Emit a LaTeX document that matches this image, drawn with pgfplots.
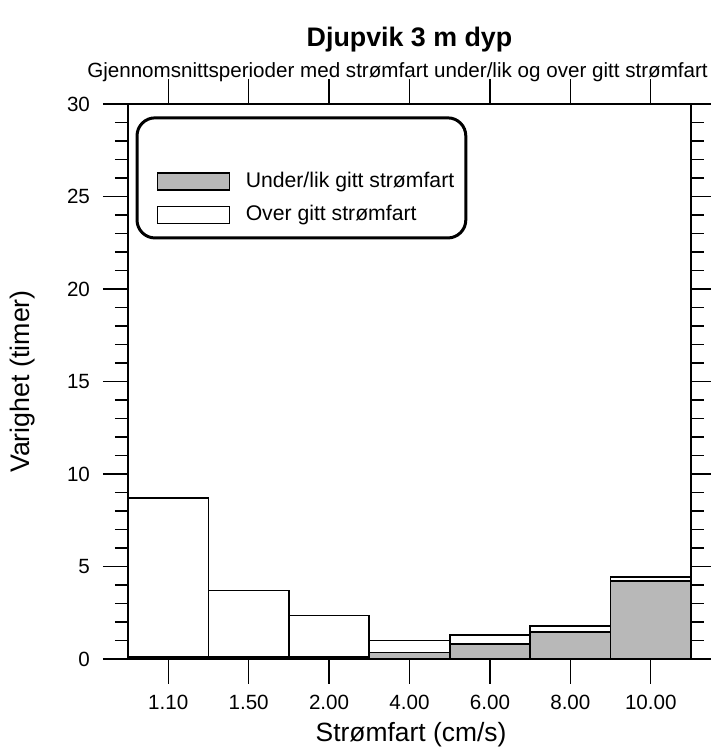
\documentclass[border=0pt]{standalone}
\usepackage{pgfplots}
\usepackage{pgfplotstable}
\pgfplotsset{compat=1.18}
\usepackage{fontspec}
\setmainfont{Liberation Sans}
\definecolor{shade}{gray}{0.72}

% under/lik (gray) and over (white) stacked per current speed class
\pgfplotstableread{
x gray white
1 0.10 8.60
2 0.10 3.60
3 0.10 2.25
4 0.35 0.65
5 0.80 0.50
6 1.45 0.33
7 4.20 0.25
}\speeddata

\begin{document}
\begin{tikzpicture}
  \begin{axis}[
      scale only axis,
      width=281.5pt, height=277.5pt,
      xmin=0.5, xmax=7.5,
      ymin=0, ymax=30,
      ybar stacked, bar width=1,
      clip=false,
      xtick={1,...,7},
      xticklabels={1.10,1.50,2.00,4.00,6.00,8.00,10.00},
      ytick={0,5,...,30},
      minor y tick num=4,
      xtick pos=both, xticklabel pos=lower,
      ytick pos=both, yticklabel pos=left,
      tick align=outside,
      major tick length=12.5pt,
      minor tick length=6.5pt,
      every tick/.style={black, line width=0.7pt},
      axis line style={line width=0.9pt},
      /pgf/number format/assume math mode=true,
      ticklabel style={font=\fontsize{10.3}{12}\selectfont},
      xticklabel style={anchor=base, yshift=-13pt},
      yticklabel style={xshift=-3pt},
      xlabel={Strømfart (cm/s)},
      xlabel style={font=\fontsize{13.2}{15}\selectfont,
        at={(axis description cs:0.5027,-0.1478)}, anchor=base},
      ylabel={Varighet (timer)},
      ylabel style={font=\fontsize{13.4}{15}\selectfont,
        at={(axis description cs:-0.188,0.5)}, anchor=center},
      legend style={draw=none, fill=none,
        at={(rel axis cs:0.05,0.885)}, anchor=north west,
        font=\fontsize{10.6}{12}\selectfont, row sep=3.5pt,
        inner sep=0pt},
      legend cell align=left,
      legend image code/.code={
        \draw[#1, line width=0.6pt] (0pt,-4.25pt) rectangle (36pt,4.25pt);},
    ]
    \addplot[fill=shade, draw=black, line width=0.9pt] table[x=x, y=gray] {\speeddata};
    \addplot[fill=white, draw=black, line width=0.9pt] table[x=x, y=white] {\speeddata};
    \addlegendentry{\hspace{6pt}Under/lik gitt strømfart}
    \addlegendentry{\hspace{6pt}Over gitt strømfart}

    \draw[line width=1.5pt, rounded corners=9pt]
      (rel axis cs:0.016,0.975) rectangle (rel axis cs:0.600,0.7586);

    \node[anchor=base, font=\bfseries\fontsize{13.4}{15}\selectfont]
      at (rel axis cs:0.5,1.1027) {Djupvik 3 m dyp};
    \node[anchor=base, font=\fontsize{10.3}{12}\selectfont]
      at (rel axis cs:0.4787,1.0486)
      {Gjennomsnittsperioder med strømfart under/lik og over gitt strømfart};
  \end{axis}
  \pgfresetboundingbox
  \path[use as bounding box]
    ([xshift=-64pt, yshift=-46.5pt]current axis.south west)
    rectangle ([xshift=10pt, yshift=52pt]current axis.north east);
\end{tikzpicture}
\end{document}
